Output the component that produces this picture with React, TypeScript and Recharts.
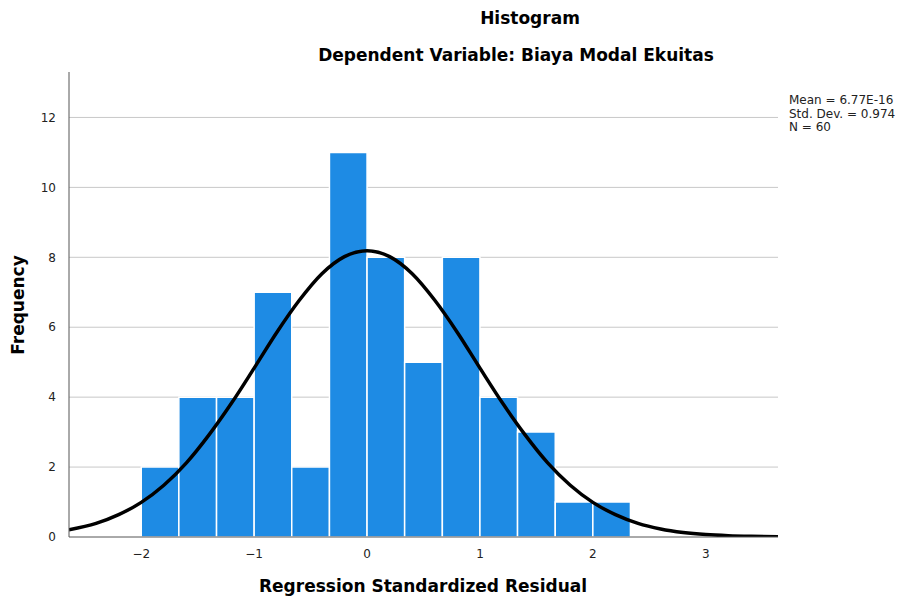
import React from "react";
import {
  ComposedChart,
  Line,
  XAxis,
  YAxis,
  CartesianGrid,
  ReferenceArea,
} from "recharts";

// Histogram bin edges and counts (Regression Standardized Residual)
const binEdges = [-2, -1.667, -1.333, -1, -0.667, -0.333, 0, 0.333, 0.667, 1, 1.333, 1.667, 2, 2.333];
const binCounts = [2, 4, 4, 7, 2, 11, 8, 5, 8, 4, 3, 1, 1];

// Normal curve points
const curveX = [-2.64, -2.4, -2.2, -2.0, -1.8, -1.6, -1.4, -1.2, -1.0, -0.8, -0.6, -0.4, -0.2, 0, 0.2, 0.4, 0.6, 0.8, 1.0, 1.2, 1.4, 1.6, 1.8, 2.0, 2.2, 2.4, 2.6, 2.8, 3.0, 3.2, 3.4, 3.64];
const curveY = [0.21, 0.39, 0.64, 0.99, 1.48, 2.12, 2.92, 3.83, 4.83, 5.85, 6.77, 7.53, 8.02, 8.19, 8.02, 7.53, 6.77, 5.85, 4.83, 3.83, 2.92, 2.12, 1.48, 0.99, 0.64, 0.39, 0.23, 0.13, 0.07, 0.037, 0.019, 0.008];

const xTicks = [-2, -1, 0, 1, 2, 3];
const yTicks = [0, 2, 4, 6, 8, 10, 12];
const gridValues = [2, 4, 6, 8, 10, 12];
const statsLines = ["Mean = 6.77E-16", "Std. Dev. = 0.974", "N = 60"];

const curveData = curveX.map((x, i) => ({ x, y: curveY[i] }));

const FONT = "'DejaVu Sans', sans-serif";
const BAR_COLOR = "#1E8BE4";

const fmt = (v: number) => (v < 0 ? "\u2212" + Math.abs(v) : String(v));

export default function App() {
  return (
    <div style={{ position: "absolute", left: 0, top: 0, width: 905, height: 602, background: "#fff", fontFamily: FONT }}>
      <div style={{ position: "absolute", left: 0, width: 1060, top: 8, textAlign: "center", fontWeight: "bold", fontSize: 17 }}>
        Histogram
      </div>
      <div style={{ position: "absolute", left: 0, width: 1032, top: 45, textAlign: "center", fontWeight: "bold", fontSize: 17 }}>
        Dependent Variable: Biaya Modal Ekuitas
      </div>
      <div style={{ position: "absolute", left: 789, top: 94, fontSize: 12, lineHeight: "13.5px", color: "#222" }}>
        {statsLines.map((s) => (
          <div key={s} style={{ whiteSpace: "nowrap" }}>{s}</div>
        ))}
      </div>
      <div
        style={{
          position: "absolute",
          left: 18,
          top: 305,
          transform: "translate(-50%, -50%) rotate(-90deg)",
          fontWeight: "bold",
          fontSize: 17,
          whiteSpace: "nowrap",
        }}
      >
        Frequency
      </div>
      <div style={{ position: "absolute", left: 0, width: 846, top: 576, textAlign: "center", fontWeight: "bold", fontSize: 17 }}>
        Regression Standardized Residual
      </div>
      <ComposedChart
        width={905}
        height={602}
        data={curveData}
        margin={{ top: 72, right: 127, bottom: 35, left: 29 }}
      >
        <CartesianGrid horizontal vertical={false} horizontalValues={gridValues} stroke="#c8c8c8" strokeWidth={1} />
        <XAxis
          dataKey="x"
          type="number"
          domain={[-2.64, 3.64]}
          allowDataOverflow
          ticks={xTicks}
          tickFormatter={fmt}
          tickLine={false}
          axisLine={{ stroke: "#555" }}
          height={30}
          tickMargin={6}
          tick={{ fontSize: 12, fill: "#222", fontFamily: FONT }}
        />
        <YAxis
          type="number"
          domain={[0, 13.3]}
          allowDataOverflow
          ticks={yTicks}
          tickLine={false}
          axisLine={{ stroke: "#555" }}
          width={40}
          tickMargin={7}
          tick={{ fontSize: 12, fill: "#222", fontFamily: FONT }}
        />
        {binCounts.map((c, i) => (
          <ReferenceArea
            key={i}
            x1={binEdges[i]}
            x2={binEdges[i + 1]}
            y1={0}
            y2={c}
            fill={BAR_COLOR}
            fillOpacity={1}
            stroke="#ffffff"
            strokeWidth={1.5}
            ifOverflow="visible"
          />
        ))}
        <Line
          dataKey="y"
          type="monotone"
          stroke="#000"
          strokeWidth={3.5}
          dot={false}
          isAnimationActive={false}
        />
      </ComposedChart>
    </div>
  );
}
